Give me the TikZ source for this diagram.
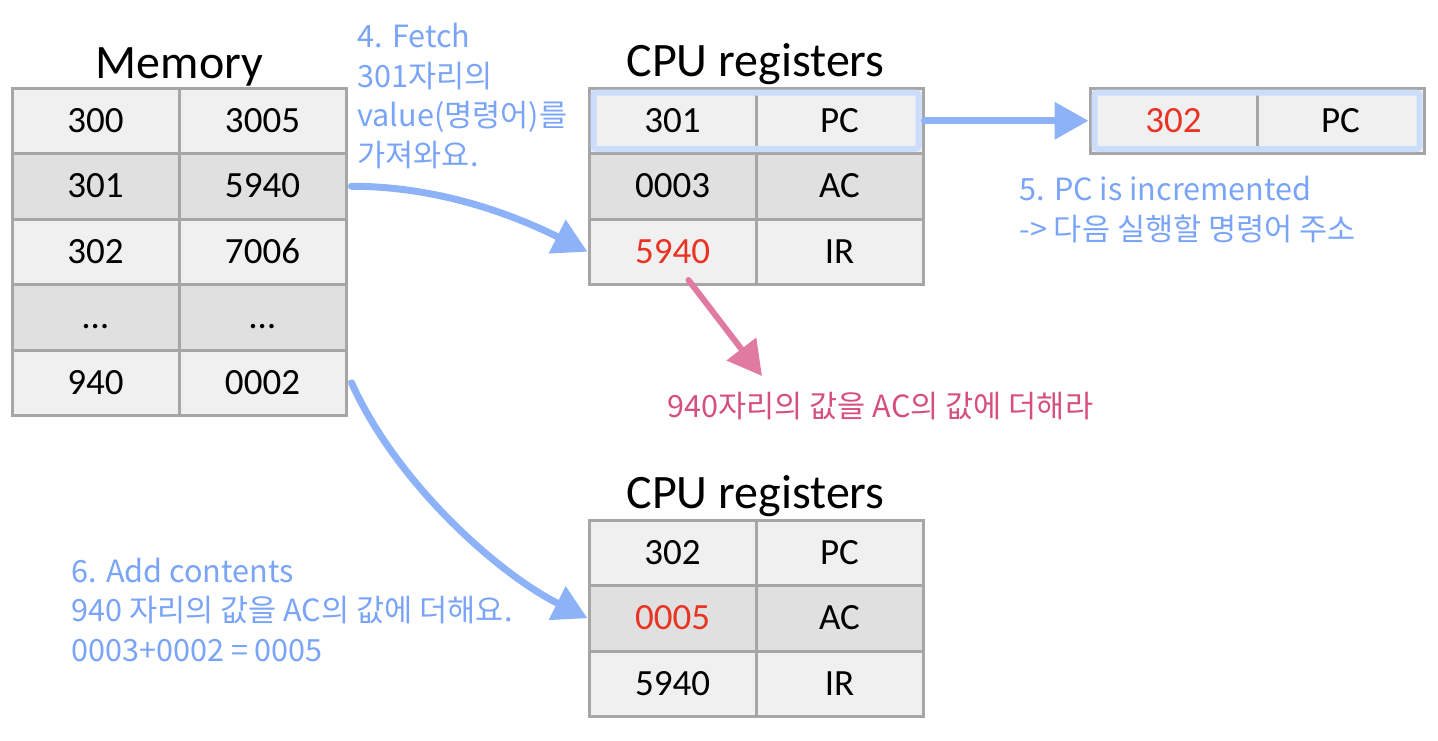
\documentclass[tikz,border=0pt]{standalone}
\usepackage{fontspec}
\setmainfont{Carlito}
\newfontfamily\handfont{Noto Sans CJK KR}
\usetikzlibrary{arrows.meta,fit}

\definecolor{cellline}{RGB}{166,166,166}
\definecolor{celllite}{RGB}{240,240,240}
\definecolor{celldark}{RGB}{224,224,224}
\definecolor{hot}{RGB}{233,51,35}
\definecolor{noteblue}{RGB}{122,164,247}
\definecolor{glowblue}{RGB}{204,221,251}
\definecolor{notepink}{RGB}{214,80,126}
\definecolor{pinkchalk}{RGB}{224,122,160}

\tikzset{
  cell/.style={draw=cellline, line width=1.5pt, minimum width=83.5pt,
    minimum height=32.75pt, inner sep=0pt, text height=11.7pt, text depth=0pt,
    font=\fontsize{18.5}{22}\selectfont},
  lite/.style={cell, fill=celllite},
  dark/.style={cell, fill=celldark},
  title/.style={anchor=base, font=\fontsize{24}{28}\selectfont},
  glow/.style={draw=glowblue, line width=3pt, rounded corners=1.5pt, inner sep=-3pt},
  % ancora sulla linea di base dell'ultima riga
  memo/.style={anchor=base west, align=left, inner sep=0pt,
    font=\handfont\fontsize{15.3}{19.7}\selectfont},
  chalk/.style={line width=3.5pt, line cap=round, draw=noteblue!85,
    -{Triangle[length=17pt,width=18pt]}}
}

\begin{document}
\begin{tikzpicture}[x=0.5pt, y=-0.5pt]
    \useasboundingbox (0,0) rectangle (1438,740);

    % Memoria
    \node[title] (memtitle) at (179.5,78) {Memory};
    \node[lite] (m1a) at (95.5,120.75) {300};
    \node[lite] (m1b) at (262.5,120.75) {3005};
    \node[dark] (m2a) at (95.5,186.25) {301};
    \node[dark] (m2b) at (262.5,186.25) {5940};
    \node[lite] (m3a) at (95.5,251.75) {302};
    \node[lite] (m3b) at (262.5,251.75) {7006};
    \node[dark] (m4a) at (95.5,317.25) {…};
    \node[dark] (m4b) at (262.5,317.25) {…};
    \node[lite] (m5a) at (95.5,382.75) {940};
    \node[lite] (m5b) at (262.5,382.75) {0002};

    % Registri CPU (fetch)
    \node[title] (cputitle) at (755.5,76) {CPU registers};
    \node[lite] (r1a) at (672.5,120.75) {301};
    \node[lite] (r1b) at (839.5,120.75) {PC};
    \node[dark] (r2a) at (672.5,186.25) {0003};
    \node[dark] (r2b) at (839.5,186.25) {AC};
    \node[lite, text=hot] (r3a) at (672.5,251.75) {5940};
    \node[lite] (r3b) at (839.5,251.75) {IR};
    \node[glow, fit=(r1a)(r1b)] (r1glow) {};

    % PC incrementato
    \node[lite, text=hot] (p1a) at (1173.5,120.75) {302};
    \node[lite] (p1b) at (1340.5,120.75) {PC};
    \node[glow, fit=(p1a)(p1b)] (p1glow) {};

    % Registri CPU (execute)
    \node[title] (cputitle2) at (755.5,508) {CPU registers};
    \node[lite] (b1a) at (672.5,552.75) {302};
    \node[lite] (b1b) at (839.5,552.75) {PC};
    \node[dark, text=hot] (b2a) at (672.5,618.25) {0005};
    \node[dark] (b2b) at (839.5,618.25) {AC};
    \node[lite] (b3a) at (672.5,683.75) {5940};
    \node[lite] (b3b) at (839.5,683.75) {IR};

    % Note
    \node[memo, text=noteblue] (fetchnote) at (357,166) {4. Fetch\\301자리의\\value(명령어)를\\가져와요.};
    \node[memo, text=noteblue] (incnote) at (1019,240) {5. PC is incremented\\-> 다음 실행할 명령어 주소};
    \node[memo, text=notepink] (decnote) at (667,417) {940자리의 값을 AC의 값에 더해라};
    \node[memo, text=noteblue] (addnote) at (71,661) {6. Add contents\\940 자리의 값을 AC의 값에 더해요.\\0003+0002 = 0005};

    % Frecce
    \coordinate (dectip) at (762,376);
    \draw[chalk] ([xshift=2pt]m2b.east) .. controls +(90,0) and +(-70,-35) .. (r3a.west);
    \draw[chalk] (r1b.east) -- (p1a.west);
    \draw[chalk, draw=pinkchalk, line width=3pt] ([xshift=8pt,yshift=3pt]r3a.south) -- (dectip);
    \draw[chalk] ([xshift=2pt]m5b.east) .. controls +(45,100) and +(-90,-45) .. (b2a.west);
\end{tikzpicture}
\end{document}
